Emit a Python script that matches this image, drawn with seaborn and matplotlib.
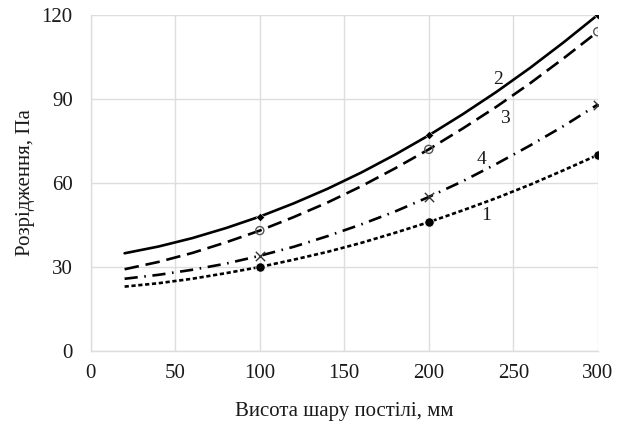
import numpy as np
import pandas as pd
import matplotlib
matplotlib.use('Agg')
import matplotlib.pyplot as plt
import seaborn as sns

# trend-line values, every 20 mm from 20 to 300
curve_x = [20, 40, 60, 80, 100, 120, 140, 160, 180, 200, 220, 240, 260, 280, 300]
curve_1 = [23.0, 24.2, 25.8, 27.8, 30.0, 32.6, 35.4, 38.6, 42.2, 46.0, 50.2, 54.6, 59.4, 64.6, 70.0]
curve_2 = [34.9, 37.3, 40.3, 43.9, 48.0, 52.7, 57.9, 63.7, 70.1, 77.0, 84.5, 92.5, 101.1, 110.3, 120.0]
curve_3 = [29.2, 31.8, 35.0, 38.8, 43.0, 47.8, 53.0, 58.8, 65.2, 72.0, 79.4, 87.2, 95.6, 104.6, 114.0]
curve_4 = [25.8, 27.2, 29.0, 31.2, 34.0, 37.2, 41.0, 45.2, 49.8, 55.0, 60.6, 66.8, 73.4, 80.4, 88.0]

# measured points
point_x = [100, 200, 300]
points_1 = [30, 46, 70]
points_2 = [48, 77, 120]
points_3 = [43, 72, 114]
points_4 = [34, 55, 88]

sns.set_style('white')
plt.rcParams['font.family'] = ['Liberation Serif', 'DejaVu Serif']

fig = plt.figure(figsize=(6.22, 4.26), dpi=100)
ax = fig.add_axes([0.146, 0.176, 0.815, 0.789])

grid_col = '#dddddd'
txt_col = '#1a1a1a'

series = [
    # label, curve, points, dashes, marker, marker kwargs, label pos
    ('2', curve_2, points_2, (None, None), 'D', dict(s=18, color='black'), (241, 97)),
    ('3', curve_3, points_3, (5.5, 2.6), 'o', dict(s=34, facecolor='none', edgecolor='#555555', linewidth=1), (245, 83)),
    ('4', curve_4, points_4, (5, 2.5, 0.6, 2.5), 'x', dict(s=45, color='#333333', linewidth=1), (231, 68.5)),
    ('1', curve_1, points_1, (1.6, 1.0), 'o', dict(s=45, color='black'), (234, 48.5)),
]

for lab, cy, py, dash, mk, mkw, (lx, ly) in series:
    df = pd.DataFrame({'x': curve_x, 'y': cy})
    sns.lineplot(data=df, x='x', y='y', ax=ax, color='black', linewidth=1.9)
    l = ax.lines[-1]
    if dash[0] is not None:
        l.set_dashes(dash)
    pts = pd.DataFrame({'x': point_x, 'y': py})
    sns.scatterplot(data=pts, x='x', y='y', ax=ax, marker=mk, zorder=5, **mkw)
    ax.text(lx, ly, lab, fontsize=14, ha='center', va='center', color=txt_col)

ax.set_xlim(0, 300)
ax.set_ylim(0, 120)
ax.set_xticks(np.arange(0, 301, 50))
ax.set_yticks([0, 30, 60, 90, 120])
ax.grid(True, color=grid_col, linewidth=1)
ax.set_axisbelow(True)
for side in ['top', 'right']:
    ax.spines[side].set_visible(False)
for side in ['left', 'bottom']:
    ax.spines[side].set_color(grid_col)
    ax.spines[side].set_linewidth(1)
ax.tick_params(axis='y', length=0, labelsize=15, pad=13, colors=txt_col)
ax.tick_params(axis='x', length=0, labelsize=15, pad=9, colors=txt_col)
ax.set_xlabel('Висота шару постілі, мм', fontsize=15, labelpad=14, color=txt_col)
ax.set_ylabel('Розрідження, Па', fontsize=15, labelpad=5, color=txt_col)

fig.savefig('out.png', dpi=100)
